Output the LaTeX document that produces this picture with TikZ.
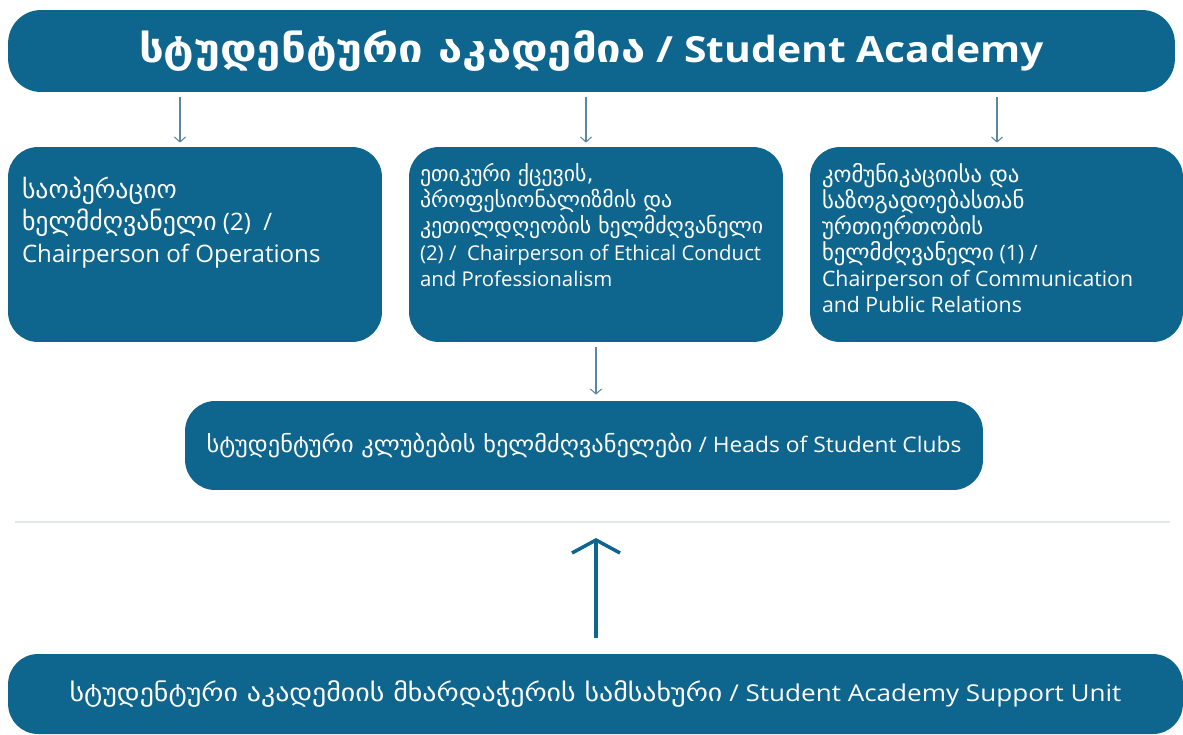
\documentclass[tikz,border=0pt]{standalone}
\usepackage{fontspec}
\setmainfont{Open Sans}
\newfontfamily\ka[Scale=1.07]{DejaVu Sans}
\usetikzlibrary{positioning,arrows.meta}

\definecolor{acadblue}{RGB}{14,101,141}
\definecolor{arrowgray}{RGB}{95,133,160}
\definecolor{sepgray}{RGB}{226,229,233}

\tikzset{
  box/.style={fill=acadblue, rounded corners=0.6cm, inner sep=0pt, text=white},
  boxtext/.style={text=white, align=left, anchor=north west, inner sep=0pt},
  smallarr/.style={-{Straight Barb[length=0.1cm,width=0.22cm]}, draw=arrowgray, line width=0.6pt},
  bigarr/.style={-{Straight Barb[length=0.26cm,width=0.96cm]}, draw=acadblue, line width=0.07cm}
}

\begin{document}
\begin{tikzpicture}[x=0.02cm,y=-0.02cm]
\useasboundingbox (0,0) rectangle (1183,734);

% top
\node[box, rounded corners=0.66cm, minimum width=23.34cm, minimum height=1.64cm] (academy) at (591.5,51)
  {\resizebox{18.1cm}{\height}{\fontsize{20.5}{24}\selectfont\bfseries{\ka სტუდენტური აკადემია} / Student Academy}};

% chairpersons
\node[box, minimum width=7.48cm, minimum height=3.9cm] (ops) at (195,244.5) {};
\node[box, minimum width=7.48cm, minimum height=3.9cm] (ethics) at (596,244.5) {};
\node[box, minimum width=7.46cm, minimum height=3.9cm] (comm) at (996.5,244.5) {};

\node[boxtext, font=\fontsize{13.7}{18.1}\selectfont, below right=0.6cm and 0.28cm of ops.north west] (ops-t)
  {{\ka საოპერაციო}\\ {\ka ხელმძღვანელი} (2)~~/\\ Chairperson of Operations};
\node[boxtext, font=\fontsize{11.6}{15}\selectfont, below right=0.32cm and 0.22cm of ethics.north west] (ethics-t)
  {{\ka ეთიკური ქცევის,}\\ {\ka პროფესიონალიზმის და}\\ {\ka კეთილდღეობის ხელმძღვანელი}\\ (2) /~~Chairperson of Ethical Conduct\\ and Professionalism};
\node[boxtext, font=\fontsize{12.1}{14.9}\selectfont, below right=0.32cm and 0.24cm of comm.north west] (comm-t)
  {{\ka კომუნიკაციისა და}\\ {\ka საზოგადოებასთან}\\ {\ka ურთიერთობის}\\ {\ka ხელმძღვანელი} (1) /\\ Chairperson of Communication\\ and Public Relations};

% clubs
\node[box, minimum width=15.96cm, minimum height=1.78cm] (heads) at (584,445.5)
  {\resizebox{15.1cm}{\height}{\fontsize{12.2}{14}\selectfont{\ka სტუდენტური კლუბების ხელმძღვანელები} / Heads of Student Clubs}};

% support unit
\coordinate (sepL) at (15,522);
\coordinate (sepR) at (1170,522);
\draw[sepgray, line width=0.03cm] (sepL) -- (sepR);

\node[box, minimum width=23.5cm, minimum height=1.6cm] (support) at (595.5,694)
  {\resizebox{21.04cm}{\height}{\fontsize{13.2}{15}\selectfont{\ka სტუდენტური აკადემიის მხარდაჭერის სამსახური} / Student Academy Support Unit}};

% arrows
\coordinate (a1) at (180,0);
\coordinate (a2) at (586,0);
\coordinate (a3) at (997,0);
\draw[smallarr, shorten <=0.1cm, shorten >=0.08cm] (academy.south -| a1) -- (ops.north -| a1);
\draw[smallarr, shorten <=0.1cm, shorten >=0.08cm] (academy.south -| a2) -- (ethics.north -| a2);
\draw[smallarr, shorten <=0.1cm, shorten >=0.08cm] (academy.south -| a3) -- (comm.north -| a3);
\draw[smallarr, shorten <=0.1cm, shorten >=0.12cm] (ethics.south) -- (ethics.south |- heads.north);
\draw[bigarr, shorten <=0.32cm, shorten >=0.32cm] (support.north -| ethics.south) -- (sepL -| ethics.south);
\end{tikzpicture}
\end{document}
